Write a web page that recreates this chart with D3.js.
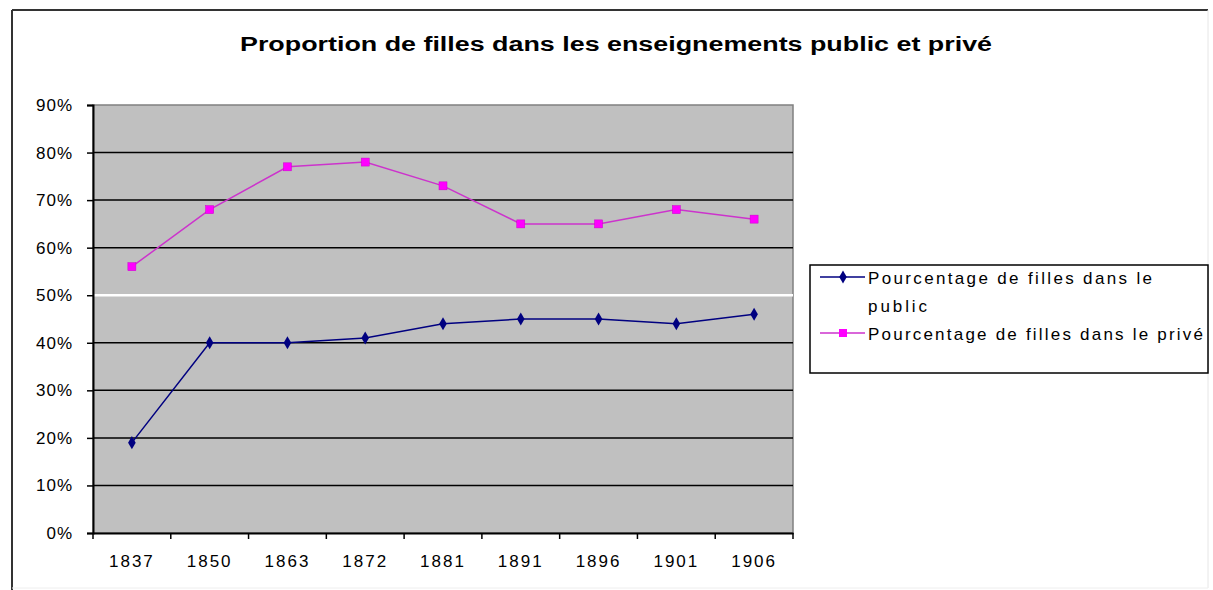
<!DOCTYPE html>
<meta charset="utf-8">
<style>
    body { margin: 0; background: #fff; }
    text { font-family: Arial, "Liberation Sans", sans-serif; fill: #000; }
    .grid line { stroke: #000; stroke-width: 1.5; }
</style>

<svg width="1213" height="590"></svg>

<script src="https://d3js.org/d3.v7.min.js"></script>

<script>
    var years = ["1837", "1850", "1863", "1872", "1881", "1891", "1896", "1901", "1906"];
    var publicPct = [19, 40, 40, 41, 44, 45, 45, 44, 46];
    var privePct = [56, 68, 77, 78, 73, 65, 65, 68, 66];
    var yTicks = [0, 10, 20, 30, 40, 50, 60, 70, 80, 90];
    var seriesNames = ["Pourcentage de filles dans le public", "Pourcentage de filles dans le privé"];

    var svg = d3.select("svg");

    // chart frame (dark top/left, faint right/bottom)
    svg.append("line").attr("x1", 12).attr("y1", 10).attr("x2", 1208).attr("y2", 10)
        .attr("stroke", "#333").attr("stroke-width", 2);
    svg.append("line").attr("x1", 12).attr("y1", 10).attr("x2", 12).attr("y2", 590)
        .attr("stroke", "#333").attr("stroke-width", 2);
    svg.append("line").attr("x1", 1208).attr("y1", 10).attr("x2", 1208).attr("y2", 588)
        .attr("stroke", "#e6e6e6").attr("stroke-width", 1);
    svg.append("line").attr("x1", 12).attr("y1", 588).attr("x2", 1208).attr("y2", 588)
        .attr("stroke", "#eee").attr("stroke-width", 1);

    svg.append("text")
        .attr("x", 616).attr("y", 51)
        .attr("text-anchor", "middle")
        .attr("font-size", 20).attr("font-weight", "bold")
        .attr("textLength", 752).attr("lengthAdjust", "spacingAndGlyphs")
        .text("Proportion de filles dans les enseignements public et privé");

    var plotL = 93, plotR = 793, plotT = 105, plotB = 533;

    var x = d3.scaleBand().domain(years).range([plotL, plotR]);
    var y = d3.scaleLinear().domain([0, 90]).range([plotB, plotT]);

    svg.append("rect")
        .attr("x", plotL).attr("y", plotT)
        .attr("width", plotR - plotL).attr("height", plotB - plotT)
        .attr("fill", "#c0c0c0").attr("stroke", "#808080").attr("stroke-width", 1.5);

    svg.append("g").attr("class", "grid")
        .selectAll("line")
        .data(yTicks.filter(function (d) { return d > 0 && d < 90; }))
        .enter().append("line")
        .attr("x1", plotL).attr("x2", plotR)
        .attr("y1", function (d) { return y(d); })
        .attr("y2", function (d) { return y(d); })
        .style("stroke", function (d) { return d === 50 ? "#fff" : null; })
        .style("stroke-width", function (d) { return d === 50 ? 2.5 : null; });

    var yAxis = svg.append("g")
        .attr("transform", "translate(" + plotL + ",0)")
        .call(d3.axisLeft(y).tickValues(yTicks).tickSize(6).tickPadding(14)
            .tickFormat(function (d) { return d + "%"; }));
    yAxis.selectAll("text").attr("font-size", 17).attr("letter-spacing", 1)
        .attr("font-family", "Arial, 'Liberation Sans', sans-serif");
    yAxis.select(".domain").attr("stroke", "#000").attr("stroke-width", 2);
    yAxis.selectAll(".tick line").attr("stroke", "#000").attr("stroke-width", 1.5);

    var xAxis = svg.append("g")
        .attr("transform", "translate(0," + plotB + ")")
        .call(d3.axisBottom(x).tickSize(0).tickPadding(22));
    xAxis.selectAll("text").attr("font-size", 17).attr("letter-spacing", 2)
        .attr("font-family", "Arial, 'Liberation Sans', sans-serif");
    xAxis.select(".domain").attr("stroke", "#000").attr("stroke-width", 2);

    // category boundary ticks
    svg.append("g").selectAll("line")
        .data(years.concat(["end"]))
        .enter().append("line")
        .attr("x1", function (d, i) { return plotL + i * x.step(); })
        .attr("x2", function (d, i) { return plotL + i * x.step(); })
        .attr("y1", plotB).attr("y2", plotB + 6)
        .attr("stroke", "#000").attr("stroke-width", 1.5);

    var line = d3.line()
        .x(function (d, i) { return x(years[i]) + x.bandwidth() / 2; })
        .y(function (d) { return y(d); });

    svg.append("path").datum(privePct)
        .attr("d", line).attr("fill", "none")
        .attr("stroke", "#cc33cc").attr("stroke-width", 1.5);
    svg.append("g").selectAll("rect")
        .data(privePct).enter().append("rect")
        .attr("x", function (d, i) { return x(years[i]) + x.bandwidth() / 2 - 4; })
        .attr("y", function (d) { return y(d) - 4; })
        .attr("width", 8).attr("height", 8)
        .attr("fill", "#ff00ff").attr("stroke", "#cc00cc").attr("stroke-width", 0.5);

    svg.append("path").datum(publicPct)
        .attr("d", line).attr("fill", "none")
        .attr("stroke", "#000080").attr("stroke-width", 1.5);
    var diamond = d3.symbol().type(d3.symbolDiamond).size(50);
    svg.append("g").selectAll("path")
        .data(publicPct).enter().append("path")
        .attr("d", diamond)
        .attr("transform", function (d, i) {
            return "translate(" + (x(years[i]) + x.bandwidth() / 2) + "," + y(d) + ")";
        })
        .attr("fill", "#000080");

    // legend
    var legend = svg.append("g");
    legend.append("rect")
        .attr("x", 810).attr("y", 265).attr("width", 398).attr("height", 108)
        .attr("fill", "#fff").attr("stroke", "#000").attr("stroke-width", 1.5);

    legend.append("line").attr("x1", 820).attr("x2", 865).attr("y1", 277).attr("y2", 277)
        .attr("stroke", "#000080").attr("stroke-width", 1.5);
    legend.append("path").attr("d", diamond)
        .attr("transform", "translate(843,277)").attr("fill", "#000080");
    legend.append("text").attr("x", 868).attr("y", 284).attr("font-size", 17)
        .attr("textLength", 284).attr("lengthAdjust", "spacing")
        .text("Pourcentage de filles dans le");
    legend.append("text").attr("x", 868).attr("y", 312).attr("font-size", 17)
        .attr("textLength", 59).attr("lengthAdjust", "spacing")
        .text("public");

    legend.append("line").attr("x1", 820).attr("x2", 865).attr("y1", 333).attr("y2", 333)
        .attr("stroke", "#cc33cc").attr("stroke-width", 1.5);
    legend.append("rect").attr("x", 839).attr("y", 329).attr("width", 8).attr("height", 8)
        .attr("fill", "#ff00ff");
    legend.append("text").attr("x", 868).attr("y", 340).attr("font-size", 17)
        .attr("textLength", 335).attr("lengthAdjust", "spacing")
        .text(seriesNames[1]);
</script>
